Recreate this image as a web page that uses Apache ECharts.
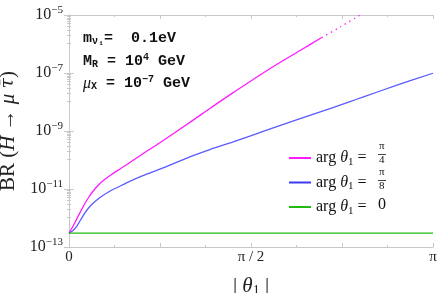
<!DOCTYPE html>
<html><head><meta charset="utf-8">
<script src="https://cdn.jsdelivr.net/npm/echarts@6/dist/echarts.min.js"></script>
<style>html,body{margin:0;padding:0;background:#fff}#c{width:441px;height:293px}</style>
</head><body><div id="c"></div>
<script>
// theta values are in units of pi
const thetaMag = [0, 0.0102, 0.0212, 0.0322, 0.0432, 0.0542, 0.066, 0.079, 0.0936, 0.112, 0.134, 0.158, 0.203, 0.2496, 0.341, 0.387, 0.451, 0.543, 0.635, 0.6945];
const brMag = [3.0e-13, 4.99e-13, 9.18e-13, 1.71e-12, 3.10e-12, 5.20e-12, 8.38e-12, 1.30e-11, 1.93e-11, 2.88e-11, 4.39e-11, 6.89e-11, 1.65e-10, 3.96e-10, 2.37e-9, 6.0e-9, 2.1e-8, 1.2e-7, 6.0e-7, 1.67e-6];
const thetaMagDot = [0.6945, 0.745, 0.800];
const brMagDot = [1.67e-6, 3.85e-6, 1.0e-5];
const thetaBlue = [0, 0.0102, 0.0212, 0.0322, 0.0432, 0.0542, 0.066, 0.079, 0.090, 0.112, 0.134, 0.158, 0.203, 0.2496, 0.341, 0.387, 0.451, 0.543, 0.635, 0.717, 0.772, 0.809, 0.901, 1.0];
const brBlue = [3.0e-13, 3.62e-13, 5.19e-13, 8.69e-13, 1.46e-12, 2.26e-12, 3.23e-12, 4.44e-12, 5.63e-12, 8.38e-12, 1.15e-11, 1.63e-11, 2.87e-11, 4.82e-11, 1.42e-10, 2.3e-10, 4.2e-10, 1.07e-9, 2.65e-9, 5.9e-9, 1.03e-8, 1.5e-8, 3.8e-8, 9.8e-8];
const thetaGreen = [0, 1.0];
const brGreen = [3.0e-13, 3.0e-13];
const xTickLabels = {0: '0', 0.5: 'π / 2', 1: 'π'};
const seriesNames = ['arg θ1 = π/4', 'arg θ1 = π/8', 'arg θ1 = 0'];

const zip = (a, b) => a.map((v, i) => [v, b[i]]);
const chart = echarts.init(document.getElementById('c'));
const axisCol = '#c8c8c8';
const common = {
  axisLine: {show: true, lineStyle: {color: axisCol}},
  splitLine: {show: false},
};
chart.setOption({
  animation: false,
  grid: {left: 69, right: 8, top: 15, bottom: 46, containLabel: false, outerBoundsMode: 'none'},
  xAxis: [
    Object.assign({type: 'value', min: 0, max: 1, interval: 0.25,
      axisTick: {inside: true, length: 4, lineStyle: {color: axisCol}},
      minorTick: {show: true, splitNumber: 2, length: 2, lineStyle: {color: axisCol}},
      axisLabel: {fontFamily: 'Liberation Serif', fontSize: 15, color: '#222', margin: 3,
        formatter: v => (xTickLabels[v] !== undefined ? xTickLabels[v] : '')},
      name: '{r|| }{i|θ}{s|1}{r| |}', nameLocation: 'middle', nameGap: 28,
      nameTextStyle: {rich: {
        r: {fontFamily: 'Liberation Serif', fontSize: 21, color: '#222'},
        i: {fontFamily: 'Liberation Serif', fontSize: 21, color: '#222', fontStyle: 'italic'},
        s: {fontFamily: 'Liberation Serif', fontSize: 14, color: '#222', padding: [9, 0, 0, 0]}}}}, common),
    Object.assign({type: 'value', min: 0, max: 1, interval: 0.25, position: 'top',
      axisTick: {inside: true, length: 4, lineStyle: {color: axisCol}},
      minorTick: {show: true, splitNumber: 2, length: 2, lineStyle: {color: axisCol}},
      axisLabel: {show: false}}, common)
  ],
  yAxis: [
    Object.assign({type: 'log', logBase: 10, min: 1e-13, max: 1e-5, interval: 2,
      axisTick: {inside: true, length: 5, lineStyle: {color: axisCol}},
      minorTick: {show: true, splitNumber: 10, length: 2, lineStyle: {color: axisCol}},
      axisLabel: {margin: 6, color: '#222',
        formatter: v => { const e = Math.round(Math.log10(v)); return '{b|10}{s|' + String(e).replace('-', '−') + '}'; },
        rich: {b: {fontFamily: 'Liberation Serif', fontSize: 16, color: '#222'},
               s: {fontFamily: 'Liberation Serif', fontSize: 11, color: '#222', padding: [0, 0, 10, 0]}}},
      name: '{r|BR (}{i|H}{r| → }{i|μ }{t|τ̄}{r|)}', nameLocation: 'middle', nameGap: 48,
      nameTextStyle: {rich: {r: {fontFamily: 'Liberation Serif', fontSize: 21, color: '#222'},
                             i: {fontFamily: 'Liberation Serif', fontSize: 21, color: '#222', fontStyle: 'italic'},
                             t: {fontFamily: 'DejaVu Serif', fontSize: 19, color: '#222', fontStyle: 'italic'}}}}, common),
    Object.assign({type: 'log', logBase: 10, min: 1e-13, max: 1e-5, interval: 2, position: 'right',
      axisTick: {inside: true, length: 5, lineStyle: {color: axisCol}},
      minorTick: {show: true, splitNumber: 10, length: 2, lineStyle: {color: axisCol}},
      axisLabel: {show: false}}, common)
  ],
  legend: {
    orient: 'vertical', left: 284, top: 145, itemWidth: 22, itemHeight: 2, itemGap: 7,
    icon: 'rect', data: seriesNames,
    formatter: n => '{t|arg }{i|θ}{s|1}{t| =}',
    textStyle: {rich: {
      t: {fontFamily: 'Liberation Serif', fontSize: 16, color: '#111', height: 17},
      i: {fontFamily: 'Liberation Serif', fontSize: 16, color: '#111', fontStyle: 'italic'},
      s: {fontFamily: 'Liberation Serif', fontSize: 11, color: '#111', padding: [8, 0, 0, 0]}}}
  },
  graphic: [
    {type: 'text', left: 379, top: 141, style: {text: 'π', font: '11px "Liberation Serif"', fill: '#111'}},
    {type: 'line', shape: {x1: 378, y1: 154.5, x2: 386, y2: 154.5}, style: {stroke: '#111', lineWidth: 0.8}},
    {type: 'text', left: 379, top: 155, style: {text: '4', font: '11px "Liberation Serif"', fill: '#111'}},
    {type: 'text', left: 379, top: 167, style: {text: 'π', font: '11px "Liberation Serif"', fill: '#111'}},
    {type: 'line', shape: {x1: 378, y1: 180.5, x2: 386, y2: 180.5}, style: {stroke: '#111', lineWidth: 0.8}},
    {type: 'text', left: 379, top: 181, style: {text: '8', font: '11px "Liberation Serif"', fill: '#111'}},
    {type: 'text', left: 378, top: 197, style: {text: '0', font: '16px "Liberation Serif"', fill: '#111'}},
    {type: 'text', left: 83, top: 31, style: {
      text: '{b|m}{s|ν₁}{b|=  0.1eV}\n{b|M}{s|R}{b| = 10}{p|4}{b| GeV}\n{g|μ}{s|X}{b| = 10}{p|−7}{b| GeV}',
      rich: {
        b: {font: 'bold 15px "Liberation Mono"', fill: '#111', height: 22.5},
        g: {font: 'italic 16px "Liberation Serif"', fill: '#111', height: 22.5},
        s: {font: 'bold 10px "Liberation Mono"', fill: '#111', padding: [6, 0, 0, 0]},
        p: {font: 'bold 10px "Liberation Mono"', fill: '#111', padding: [0, 0, 8, 0]}
      }}}
  ],
  series: [
    {name: seriesNames[0], type: 'line', data: zip(thetaMag, brMag), smooth: 0.3, symbol: 'none',
      lineStyle: {color: '#ff1aff', width: 1.3}, itemStyle: {color: '#ff1aff'}},
    {name: 'dots', type: 'line', data: zip(thetaMagDot, brMagDot), smooth: 0.3, symbol: 'none',
      lineStyle: {color: '#ff1aff', width: 1.3, type: [1.3, 4]}},
    {name: seriesNames[1], type: 'line', data: zip(thetaBlue, brBlue), smooth: 0.3, symbol: 'none',
      lineStyle: {color: '#5a5aff', width: 1.3}, itemStyle: {color: '#3a3aee'}},
    {name: seriesNames[2], type: 'line', data: zip(thetaGreen, brGreen), symbol: 'none',
      lineStyle: {color: '#22bb11', width: 1.3}, itemStyle: {color: '#22bb11'}}
  ]
});
</script></body></html>
